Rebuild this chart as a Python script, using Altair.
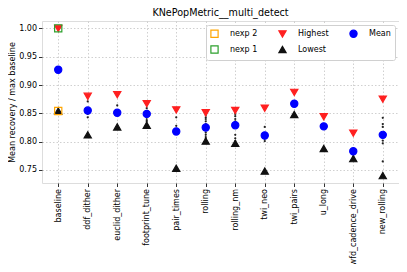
import altair as alt
import pandas as pd

categories = ["baseline", "ddf_dither", "euclid_dither", "footprint_tune", "pair_times",
              "rolling", "rolling_nm", "twi_neo", "twi_pairs", "u_long",
              "wfd_cadence_drive", "new_rolling"]
highest = [1.000, 0.880, 0.883, 0.867, 0.856, 0.851, 0.855, 0.859, 0.887, 0.844, 0.815, 0.875]
lowest = [0.854, 0.812, 0.826, 0.829, 0.753, 0.801, 0.797, 0.748, 0.848, 0.788, 0.770, 0.740]
mean = [0.927, 0.855, 0.851, 0.849, 0.818, 0.825, 0.829, 0.811, 0.867, 0.827, 0.783, 0.812]
others = [
    [],
    [0.871, 0.849, 0.843],
    [0.864],
    [0.859, 0.842, 0.838, 0.835],
    [0.843, 0.828],
    [0.847, 0.843, 0.840, 0.836, 0.831, 0.820, 0.816, 0.812, 0.808, 0.805],
    [0.849, 0.845, 0.840, 0.836, 0.812, 0.806, 0.801],
    [0.826, 0.805, 0.801],
    [],
    [],
    [0.777, 0.773],
    [0.842, 0.831, 0.826, 0.802, 0.797, 0.765],
]
nexp1_baseline = 1.000
nexp2_baseline = 0.854
y_ticks = [0.75, 0.80, 0.85, 0.90, 0.95, 1.00]

# column-major legend order: (nexp 2, nexp 1) | (Highest, Lowest) | (Mean)
series_order = ["nexp 2", "nexp 1", "Highest", "Lowest", "Mean"]
shapes = ["square", "square", "triangle-down", "triangle-up", "circle"]
fills = ["transparent", "transparent", "#ff2020", "#111111", "#0000ff"]
strokes = ["#ffa500", "#2ca02c", "#ff2020", "#111111", "#0000ff"]
sizes = [52, 52, 30, 30, 26]

rows = []
for c, h, lo, m in zip(categories, highest, lowest, mean):
    rows.append({"cat": c, "val": h, "series": "Highest"})
    rows.append({"cat": c, "val": lo, "series": "Lowest"})
    rows.append({"cat": c, "val": m, "series": "Mean"})
rows.append({"cat": "baseline", "val": nexp2_baseline, "series": "nexp 2"})
rows.append({"cat": "baseline", "val": nexp1_baseline, "series": "nexp 1"})
main_df = pd.DataFrame(rows)

dot_rows = [{"cat": c, "val": v} for c, vals in zip(categories, others) for v in vals]
dots_df = pd.DataFrame(dot_rows)

font = "DejaVu Sans"
x_enc = alt.X("cat:N", sort=categories, title=None,
              scale=alt.Scale(type="point", padding=0.55),
              axis=alt.Axis(labelAngle=-90, labelFontSize=8, labelFont=font,
                            labelColor="black", tickSize=3.5, tickColor="#333",
                            labelPadding=2, domain=False, grid=True,
                            gridDash=[1.5, 2], gridColor="#c4c4c4", gridWidth=0.8))
y_enc = alt.Y("val:Q", title="Mean recovery / max baseline",
              scale=alt.Scale(domain=[0.727, 1.013], nice=False, zero=False),
              axis=alt.Axis(values=y_ticks, format=".2f", labelFontSize=8, labelFont=font,
                            labelColor="black", tickSize=3.5, tickColor="#333",
                            labelPadding=2, domain=False, grid=True,
                            gridDash=[1.5, 2], gridColor="#c4c4c4", gridWidth=0.8,
                            titleFontSize=8, titleFont=font, titleFontWeight="normal",
                            titleColor="black", titlePadding=2))

legend = alt.Legend(title=None, orient="top-right", columns=3, offset=4,
                    labelFont=font, labelFontSize=8, labelColor="black",
                    labelOffset=11, columnPadding=18, rowPadding=3, padding=4,
                    fillColor="white", strokeColor="#d0d0d0", cornerRadius=2,
                    symbolStrokeWidth=1.2)

dots = alt.Chart(dots_df).mark_circle(size=5, color="#222", opacity=1).encode(
    x=x_enc, y=y_enc)

main = alt.Chart(main_df).mark_point(opacity=1, strokeWidth=1.2).encode(
    x=x_enc, y=y_enc,
    shape=alt.Shape("series:N", scale=alt.Scale(domain=series_order, range=shapes), legend=legend),
    fill=alt.Fill("series:N", scale=alt.Scale(domain=series_order, range=fills), legend=legend),
    stroke=alt.Stroke("series:N", scale=alt.Scale(domain=series_order, range=strokes), legend=legend),
    size=alt.Size("series:N", scale=alt.Scale(domain=series_order, range=sizes), legend=legend),
)

chart = alt.layer(dots, main).properties(
    width=357, height=162,
    title=alt.TitleParams("KNePopMetric__multi_detect", fontSize=9.6, font=font,
                          fontWeight="normal", color="black", offset=3, anchor="middle"),
    autosize=alt.AutoSizeParams(type="none"),
    padding={"left": 34, "top": 13, "right": 0, "bottom": 81},
).configure_view(stroke="#333", strokeWidth=1).configure(background="white")

chart.save("out.html", embed_options={"renderer": "svg", "actions": False})
